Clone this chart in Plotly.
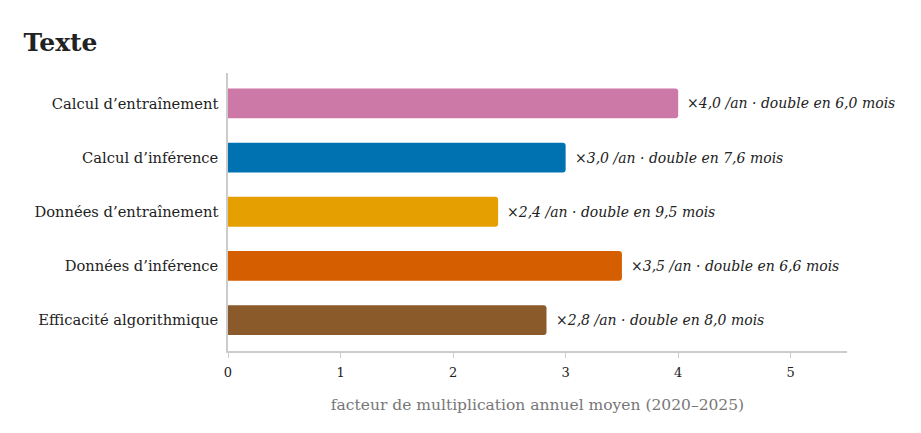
import plotly.graph_objects as go

# data
categories = ["Calcul d’entraînement", "Calcul d’inférence", "Données d’entraînement",
              "Données d’inférence", "Efficacité algorithmique"]
growth = [4.0, 3.0, 2.4, 3.5, 2.83]
labels = ["×4,0 /an · double en 6,0 mois", "×3,0 /an · double en 7,6 mois",
          "×2,4 /an · double en 9,5 mois", "×3,5 /an · double en 6,6 mois",
          "×2,8 /an · double en 8,0 mois"]
colors = ["#CC79A7", "#0072B2", "#E69F00", "#D55E00", "#8B5A2B"]

FONT = "Georgia, 'DejaVu Serif', serif"

fig = go.Figure()
fig.add_trace(go.Bar(
    y=categories, x=growth, orientation="h",
    marker=dict(color=colors, cornerradius=3, line_width=0),
    width=0.55, hoverinfo="skip",
))

# value labels to the right of each bar
for cat, val, lab in zip(categories, growth, labels):
    fig.add_annotation(x=val, y=cat, text=lab, showarrow=False,
                       xanchor="left", xshift=7,
                       font=dict(family=FONT, size=14, color="#222", style="italic"))

# page body has an 8px margin, so the figure is drawn slightly smaller
fig.update_layout(
    width=913, height=425,
    margin=dict(l=220, r=74, t=65, b=82),
    paper_bgcolor="white", plot_bgcolor="white",
    font=dict(family=FONT, size=14, color="#222"),
    title=dict(text="<b>Texte</b>", x=0.017, xanchor="left", y=0.92, yanchor="middle",
               font=dict(size=25, color="#222")),
    showlegend=False,
)
fig.update_xaxes(
    range=[0, 5.5], tickvals=[0, 1, 2, 3, 4, 5],
    showgrid=False, zeroline=False,
    showline=True, linecolor="#cccccc", linewidth=1.5,
    ticks="outside", ticklen=5, tickcolor="#cccccc",
    ticklabelstandoff=4,
    tickfont=dict(size=13, color="#222"),
    title=dict(text="facteur de multiplication annuel moyen (2020–2025)",
               font=dict(size=15.5, color="#777"), standoff=20),
)
fig.update_yaxes(
    range=[4.57, -0.56], showgrid=False, zeroline=False,
    showline=True, linecolor="#cccccc", linewidth=1.5,
    ticks="", ticklabelstandoff=5,
    tickfont=dict(size=14.7, color="#222"),
)

fig.write_html("out.html")
